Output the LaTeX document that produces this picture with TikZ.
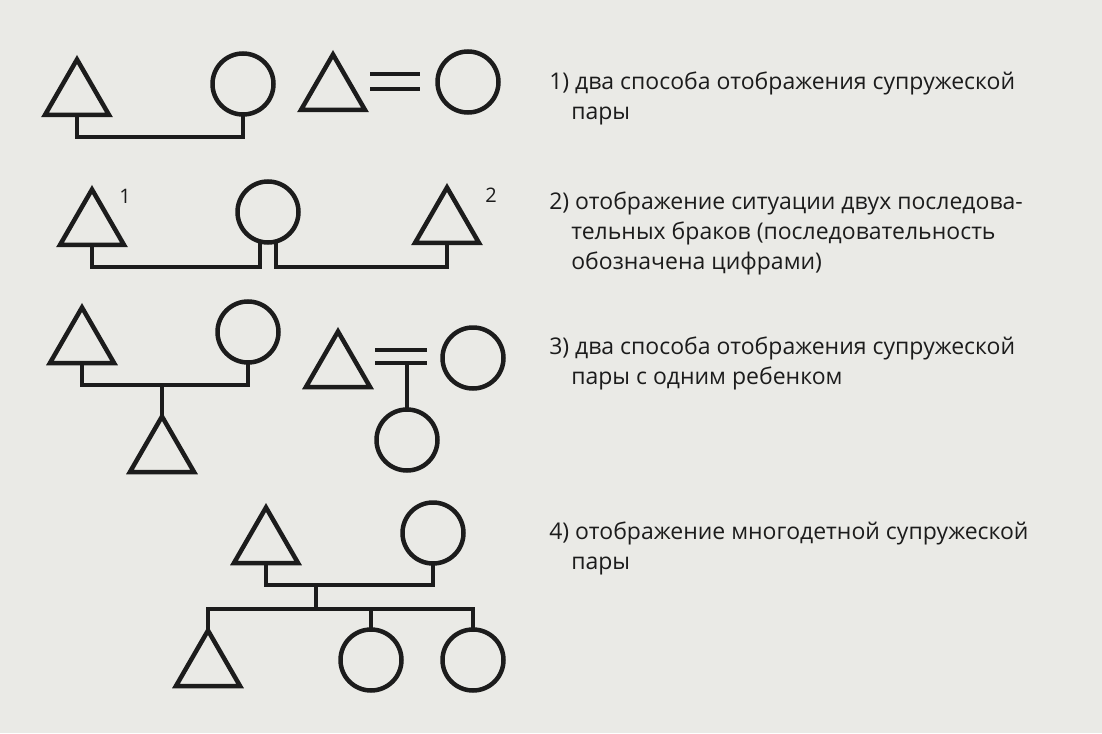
\documentclass[tikz,border=0pt]{standalone}
\usepackage{fontspec}
\setmainfont{Open Sans}
\usepackage{tikz}
\usetikzlibrary{shapes.geometric, calc}
\definecolor{paper}{RGB}{234,234,230}
\definecolor{ink}{RGB}{28,28,28}

\begin{document}
\begin{tikzpicture}[
    x=1pt, y=-1pt,
    line width=4.5pt, ink,
    male/.style={regular polygon, regular polygon sides=3, draw, minimum size=74pt, inner sep=0pt, outer sep=0pt},
    female/.style={circle, draw, minimum size=61pt, inner sep=0pt, outer sep=0pt},
    legend/.style={align=left, anchor=north west, inner sep=0pt, font=\fontsize{23}{30}\selectfont, text=ink},
    num/.style={inner sep=0pt, font=\fontsize{20}{20}\selectfont, text=ink}
]
\fill[paper] (0,0) rectangle (1102,733);

% 1) two ways to draw a couple
\node[male, anchor=south] (husb1) at (77,115) {};
\node[female] (wife1) at (243,84) {};
\draw (husb1.south) -- ++(0,22) -| (wife1.south);
\node[male, anchor=south] (husb1b) at (333,110) {};
\node[female] (wife1b) at (468,82) {};
\draw ($(husb1b.corner 3 |- wife1b)+(5,-8)$) -- ($(wife1b.west)+(-18,-8)$);
\draw ($(husb1b.corner 3 |- wife1b)+(5,7)$) -- ($(wife1b.west)+(-18,7)$);

% 2) two marriages in a row
\node[male, anchor=south] (husb2a) at (92,245) {};
\node[num] (num2a) at (125,196) {1};
\node[female] (wife2) at (268,212) {};
\node[male, anchor=south] (husb2b) at (447,243) {};
\node[num] (num2b) at (491,195) {2};
\draw (husb2a.south) -- ++(0,22) -| ([xshift=-8pt]wife2.south);
\draw (husb2b.south) -- ++(0,24) -| ([xshift=8pt]wife2.south);

% 3) couple with one child
\node[male, anchor=south] (husb3) at (82,363) {};
\node[female] (wife3) at (248,332) {};
\draw (husb3.south) -- ++(0,22) coordinate (bar3) -| (wife3.south);
\node[male, anchor=south] (son3) at (162,472) {};
\draw (son3.corner 1) -- (son3.corner 1 |- bar3);
\node[male, anchor=south] (husb3b) at (338,387) {};
\node[female] (wife3b) at (473,358) {};
\draw ($(husb3b.corner 3 |- wife3b)+(5,-8)$) -- ($(wife3b.west)+(-16,-8)$);
\draw ($(husb3b.corner 3 |- wife3b)+(5,5)$) -- ($(wife3b.west)+(-16,5)$);
\coordinate (eq3) at (407,363);
\node[female] (dau3) at (407,440) {};
\draw (dau3.north) -- (eq3);

% 4) couple with many children
\node[male, anchor=south] (husb4) at (266,563) {};
\node[female] (wife4) at (433,533) {};
\draw (husb4.south) -- ++(0,22) coordinate (bar4) -| (wife4.south);
\coordinate (kids4) at (316,609);
\draw (kids4 |- bar4) -- (kids4);
\node[male, anchor=south] (son4) at (208,686) {};
\node[female] (dau4a) at (371,660) {};
\node[female] (dau4b) at (473,660) {};
\draw (son4.corner 1) -- (son4.corner 1 |- kids4) -| (dau4b.north);
\draw (dau4a.north) -- (dau4a.north |- kids4);

% captions
\node[legend] (cap1) at (547,70) {1) два способа отображения супружеской\\\hspace*{22pt}пары};
\node[legend] (cap2) at (547,190) {2) отображение ситуации двух последова-\\\hspace*{22pt}тельных браков (последовательность\\\hspace*{22pt}обозначена цифрами)};
\node[legend] (cap3) at (547,335) {3) два способа отображения супружеской\\\hspace*{22pt}пары с одним ребенком};
\node[legend] (cap4) at (547,520) {4) отображение многодетной супружеской\\\hspace*{22pt}пары};
\end{tikzpicture}
\end{document}
